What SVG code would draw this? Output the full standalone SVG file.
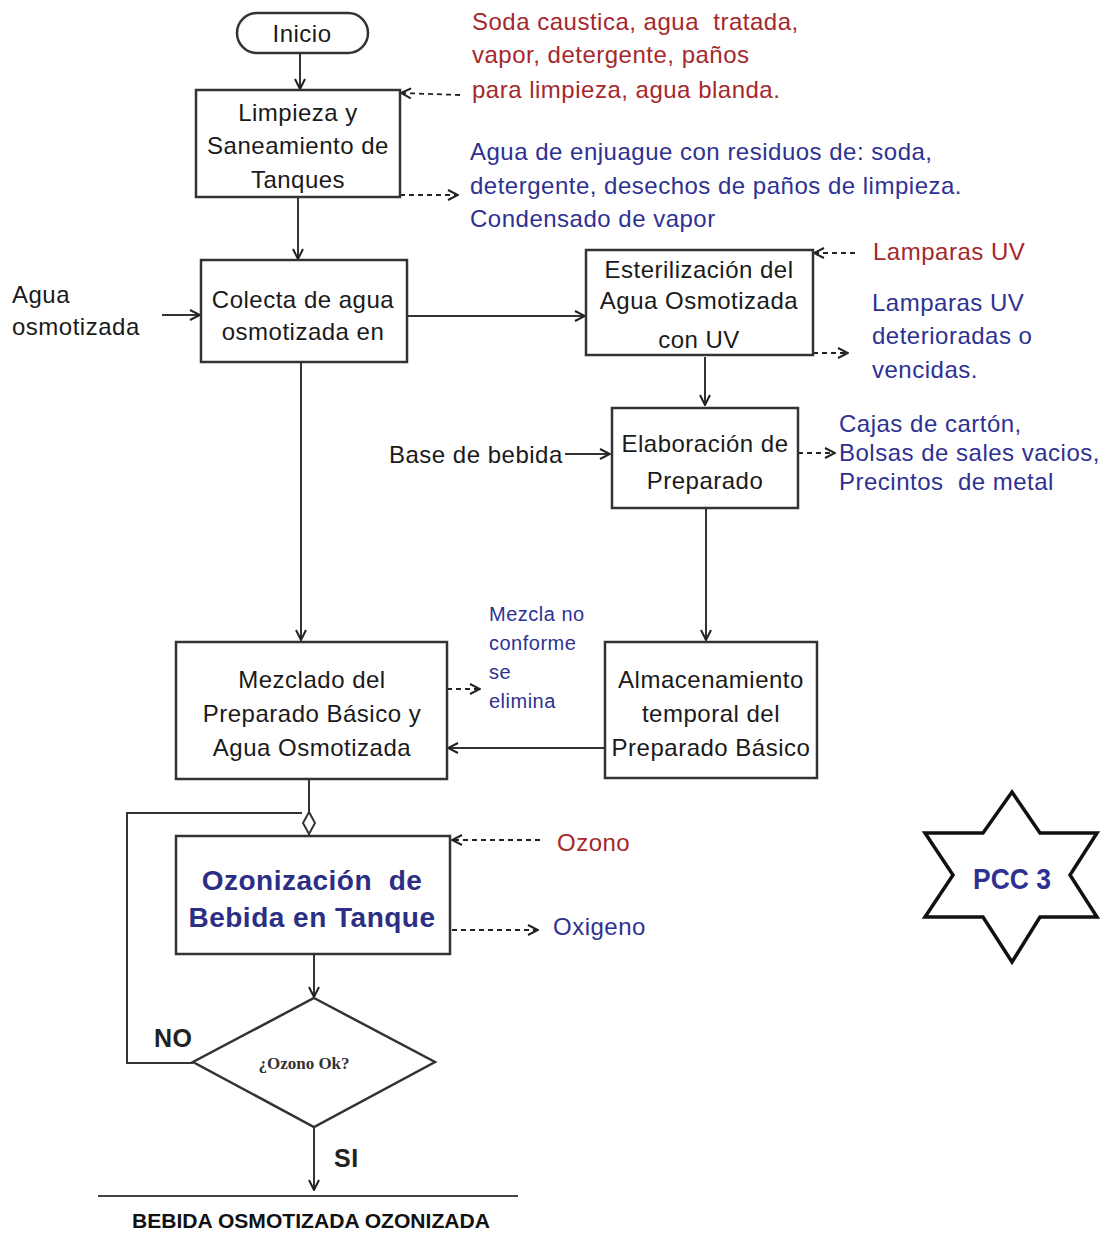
<svg xmlns="http://www.w3.org/2000/svg" width="1109" height="1238" viewBox="0 0 1109 1238" xml:space="preserve">
<style>
.box{fill:#fff;stroke:#333;stroke-width:2.5}
.t{font-family:"Liberation Sans",Arial,sans-serif;font-size:24px;fill:#1a1a1a;letter-spacing:0.5px;white-space:pre}
.c{text-anchor:middle}
.red{fill:#a5282c}
.blue{fill:#2e3192}
.ln{fill:none;stroke:#333;stroke-width:2}
.dash{fill:none;stroke:#222;stroke-width:1.8;stroke-dasharray:5 4}
</style>
<defs>
<marker id="a" viewBox="0 0 12 12" refX="11" refY="6" markerWidth="12" markerHeight="12" markerUnits="userSpaceOnUse" orient="auto">
<path d="M1,1 L11,6 L1,11" fill="none" stroke="#222" stroke-width="2"/>
</marker>
</defs>
<rect width="1109" height="1238" fill="#fff"/>
<g id="connectors">
<line class="ln" x1="300" y1="53" x2="300" y2="89" marker-end="url(#a)"/>
<line class="ln" x1="298" y1="197" x2="298" y2="259" marker-end="url(#a)"/>
<line class="ln" x1="162" y1="315" x2="200" y2="315" marker-end="url(#a)"/>
<line class="ln" x1="407" y1="316" x2="585" y2="316" marker-end="url(#a)"/>
<line class="ln" x1="705" y1="357" x2="705" y2="405" marker-end="url(#a)"/>
<line class="ln" x1="565" y1="454" x2="610" y2="454" marker-end="url(#a)"/>
<line class="ln" x1="706" y1="508" x2="706" y2="640" marker-end="url(#a)"/>
<line class="ln" x1="301" y1="362" x2="301" y2="640" marker-end="url(#a)"/>
<line class="ln" x1="605" y1="748" x2="448" y2="748" marker-end="url(#a)"/>
<line class="ln" x1="309" y1="779" x2="309" y2="812"/>
<line class="ln" x1="309" y1="834" x2="309" y2="836"/>
<polyline class="ln" points="193,1063 127,1063 127,813 302,813"/>
<path class="ln" d="M309,812 L315,823 L309,834 L303,823 Z"/>
<line class="ln" x1="314" y1="954" x2="314" y2="997" marker-end="url(#a)"/>
<line class="ln" x1="314" y1="1127" x2="314" y2="1190" marker-end="url(#a)"/>
<line x1="98" y1="1196" x2="518" y2="1196" stroke="#444" stroke-width="2"/>
<line class="dash" x1="460" y1="95" x2="401" y2="93" marker-end="url(#a)"/>
<line class="dash" x1="400" y1="195" x2="458" y2="195" marker-end="url(#a)"/>
<line class="dash" x1="855" y1="253" x2="814" y2="253" marker-end="url(#a)"/>
<line class="dash" x1="813" y1="353" x2="848" y2="353" marker-end="url(#a)"/>
<line class="dash" x1="798" y1="453" x2="835" y2="453" marker-end="url(#a)"/>
<line class="dash" x1="447" y1="689" x2="480" y2="689" marker-end="url(#a)"/>
<line class="dash" x1="540" y1="840" x2="452" y2="840" marker-end="url(#a)"/>
<line class="dash" x1="452" y1="930" x2="538" y2="930" marker-end="url(#a)"/>
</g>
<g id="inicio">
<rect x="237" y="13" width="131" height="40" rx="20" class="box"/>
<text x="302" y="42" class="t c">Inicio</text>
</g>
<g id="limpieza">
<rect x="196" y="90" width="204" height="107" class="box"/>
<text x="298" y="121" class="t c">Limpieza y</text>
<text x="298" y="154" class="t c">Saneamiento de</text>
<text x="298" y="188" class="t c">Tanques</text>
</g>
<g id="insumos-limpieza">
<text x="472" y="30" class="t red">Soda caustica, agua  tratada,</text>
<text x="472" y="63" class="t red">vapor, detergente, paños</text>
<text x="472" y="98" class="t red">para limpieza, agua blanda.</text>
</g>
<g id="residuos-limpieza">
<text x="470" y="160" class="t blue">Agua de enjuague con residuos de: soda,</text>
<text x="470" y="194" class="t blue">detergente, desechos de paños de limpieza.</text>
<text x="470" y="227" class="t blue">Condensado de vapor</text>
</g>
<g id="agua-osmotizada">
<text x="12" y="303" class="t">Agua</text>
<text x="12" y="335" class="t">osmotizada</text>
</g>
<g id="colecta">
<rect x="201" y="260" width="206" height="102" class="box"/>
<text x="303" y="308" class="t c">Colecta de agua</text>
<text x="303" y="340" class="t c">osmotizada en</text>
</g>
<g id="esterilizacion">
<rect x="586" y="250" width="227" height="105" class="box"/>
<text x="699" y="278" class="t c">Esterilización del</text>
<text x="699" y="309" class="t c">Agua Osmotizada</text>
<text x="699" y="348" class="t c">con UV</text>
</g>
<g id="lamparas-in">
<text x="873" y="260" class="t red">Lamparas UV</text>
</g>
<g id="lamparas-out">
<text x="872" y="311" class="t blue">Lamparas UV</text>
<text x="872" y="344" class="t blue">deterioradas o</text>
<text x="872" y="378" class="t blue">vencidas.</text>
</g>
<g id="base-bebida">
<text x="389" y="463" class="t">Base de bebida</text>
</g>
<g id="elaboracion">
<rect x="612" y="408" width="186" height="100" class="box"/>
<text x="705" y="452" class="t c">Elaboración de</text>
<text x="705" y="489" class="t c">Preparado</text>
</g>
<g id="residuos-elaboracion">
<text x="839" y="432" class="t blue">Cajas de cartón,</text>
<text x="839" y="461" class="t blue">Bolsas de sales vacios,</text>
<text x="839" y="490" class="t blue">Precintos  de metal</text>
</g>
<g id="almacenamiento">
<rect x="605" y="642" width="212" height="136" class="box"/>
<text x="711" y="688" class="t c">Almacenamiento</text>
<text x="711" y="722" class="t c">temporal del</text>
<text x="711" y="756" class="t c">Preparado Básico</text>
</g>
<g id="mezclado">
<rect x="176" y="642" width="271" height="137" class="box"/>
<text x="312" y="688" class="t c">Mezclado del</text>
<text x="312" y="722" class="t c">Preparado Básico y</text>
<text x="312" y="756" class="t c">Agua Osmotizada</text>
</g>
<g id="mezcla-no-conforme">
<text x="489" y="621" class="t blue" style="font-size:20px">Mezcla no</text>
<text x="489" y="650" class="t blue" style="font-size:20px">conforme</text>
<text x="489" y="679" class="t blue" style="font-size:20px">se</text>
<text x="489" y="708" class="t blue" style="font-size:20px">elimina</text>
</g>
<g id="ozonizacion">
<rect x="176" y="836" width="274" height="118" class="box"/>
<text x="312" y="890" class="t c" style="font-size:28px;font-weight:bold;fill:#2b2e83">Ozonización  de</text>
<text x="312" y="927" class="t c" style="font-size:28px;font-weight:bold;fill:#2b2e83">Bebida en Tanque</text>
</g>
<g id="ozono">
<text x="557" y="851" class="t red">Ozono</text>
</g>
<g id="oxigeno">
<text x="553" y="935" class="t blue">Oxigeno</text>
</g>
<g id="decision">
<path d="M314,998 L435,1062 L314,1127 L193,1062 Z" class="box"/>
<text x="304" y="1069" text-anchor="middle" style="font-family:'Liberation Serif',serif;font-size:17px;font-weight:bold;fill:#333">¿Ozono Ok?</text>
<text x="154" y="1047" class="t" style="font-size:25px;font-weight:bold;fill:#222">NO</text>
<text x="334" y="1167" class="t" style="font-size:25px;font-weight:bold;fill:#222">SI</text>
</g>
<g id="producto-final">
<text x="311" y="1228" class="t c" style="font-size:20px;font-weight:bold;fill:#111;letter-spacing:0" textLength="358" lengthAdjust="spacingAndGlyphs">BEBIDA OSMOTIZADA OZONIZADA</text>
</g>
<g id="pcc3">
<path d="M1012,792 L1040,833 L1097,833 L1070,875 L1097,917 L1040,917 L1012,962 L983,917 L925,917 L953,875 L925,833 L983,833 Z" fill="#fff" stroke="#111" stroke-width="3.5" stroke-linejoin="miter"/>
<text x="1012" y="889" class="t c" style="font-size:30px;font-weight:bold;fill:#2e3192;letter-spacing:0" textLength="78" lengthAdjust="spacingAndGlyphs">PCC 3</text>
</g>
</svg>
